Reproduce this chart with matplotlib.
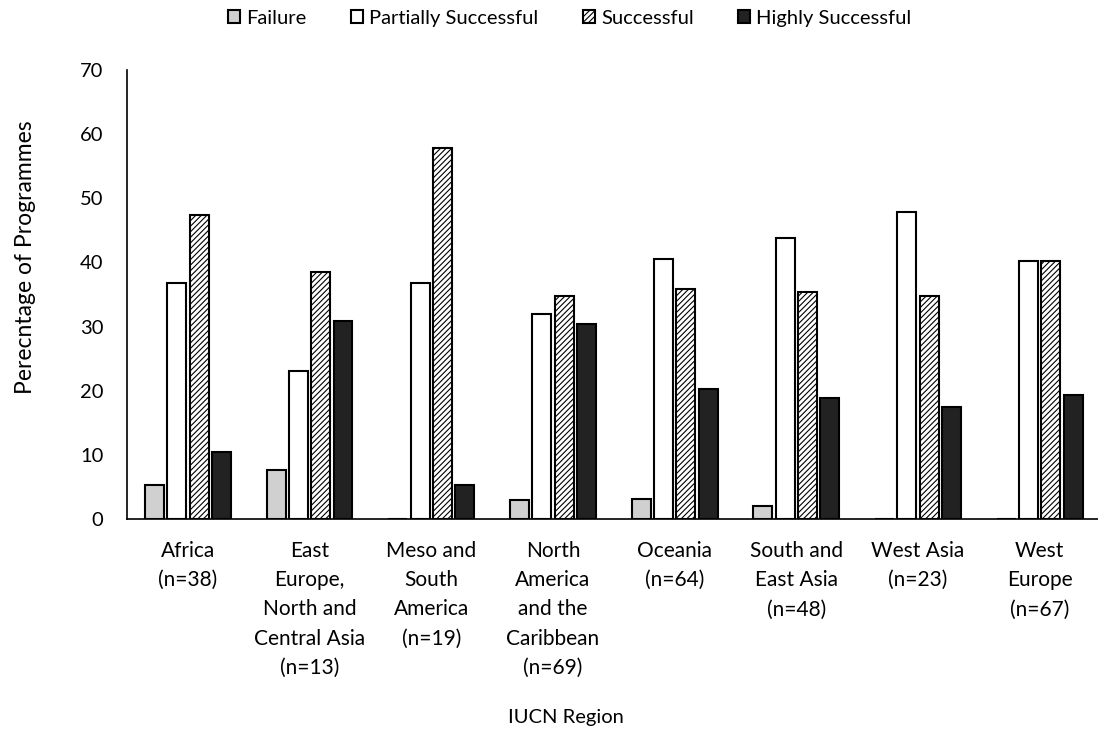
import numpy as np
import matplotlib.pyplot as plt

plt.rcParams['font.family'] = ['Lato', 'DejaVu Sans']

regions = ["Africa\n(n=38)",
           "East\nEurope,\nNorth and\nCentral Asia\n(n=13)",
           "Meso and\nSouth\nAmerica\n(n=19)",
           "North\nAmerica\nand the\nCaribbean\n(n=69)",
           "Oceania\n(n=64)",
           "South and\nEast Asia\n(n=48)",
           "West Asia\n(n=23)",
           "West\nEurope\n(n=67)"]

failure = [5.3, 7.7, 0, 2.9, 3.1, 2.1, 0, 0]
partial = [36.8, 23.1, 36.8, 31.9, 40.6, 43.8, 47.8, 40.3]
successful = [47.4, 38.5, 57.9, 34.8, 35.9, 35.4, 34.8, 40.3]
highly = [10.5, 30.8, 5.3, 30.4, 20.3, 18.8, 17.4, 19.4]

series = [("Failure", failure, "#d0d0d0", None),
          ("Partially Successful", partial, "white", None),
          ("Successful", successful, "white", "//////"),
          ("Highly Successful", highly, "#222222", None)]

plt.rcParams['hatch.linewidth'] = 0.8

fig = plt.figure(figsize=(10.98, 7.34), dpi=100)
ax = fig.add_axes([0.1157, 0.2929, 0.8867, 0.6117])

x = np.arange(len(regions))
step = 0.183
width = 0.156
for i, (name, vals, col, hatch) in enumerate(series):
    ax.bar(x + (i - 1.5) * step, vals, width, color=col, edgecolor="black",
           linewidth=1.5, hatch=hatch, label=name)

ax.set_xlim(-0.5, len(regions) - 0.5)
ax.set_ylim(0, 70)
ax.set_yticks(range(0, 71, 10))
ax.set_xticks(x)
ax.set_xticklabels(regions, fontsize=15, linespacing=1.57)
ax.tick_params(axis='both', length=0)
ax.tick_params(axis='y', pad=17, labelsize=14.5)
ax.tick_params(axis='x', pad=16)

for s in ["top", "right"]:
    ax.spines[s].set_visible(False)
ax.spines["left"].set_linewidth(1.2)
ax.spines["bottom"].set_linewidth(1.2)

ax.set_ylabel("Perecntage of Programmes", fontsize=16.5)
ax.yaxis.set_label_coords(-0.094, 0.583)
fig.text(0.515, 0.023, "IUCN Region", fontsize=14.5, ha="center", va="center")

fig.legend(loc="center", bbox_to_anchor=(0.519, 0.975), ncol=4, frameon=False,
           fontsize=14.5, handlelength=0.6, handleheight=0.6, handletextpad=0.3,
           columnspacing=2.2)

fig.savefig("out.png", dpi=100)
